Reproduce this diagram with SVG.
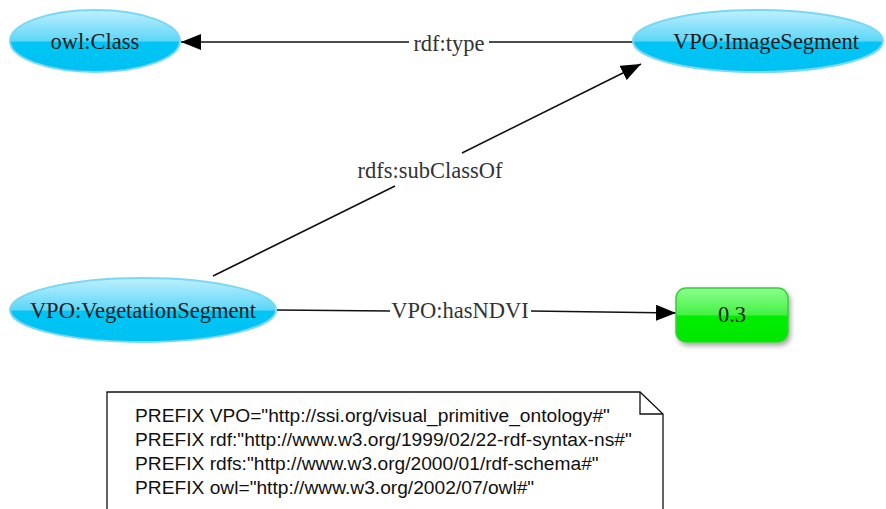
<svg xmlns="http://www.w3.org/2000/svg" width="886" height="509" viewBox="0 0 886 509">
<style>
.lbl{font-family:"Liberation Serif","Times New Roman",serif;font-size:22.5px;fill:#1a1a1a;text-anchor:middle;dominant-baseline:central}
.elbl{font-family:"Liberation Serif","Times New Roman",serif;font-size:22.5px;fill:#333;text-anchor:middle;dominant-baseline:central}
.note{font-family:"Liberation Sans",Arial,sans-serif;font-size:19.2px;fill:#111}
.edge{stroke:#111;stroke-width:1.6;fill:none}
.cls{fill:url(#blue);stroke:#7ad8f5;stroke-width:2}
</style>
<defs>
<linearGradient id="blue" x1="0" y1="0" x2="0" y2="1">
<stop offset="0" stop-color="#bff0fd"/>
<stop offset="0.5" stop-color="#5dd6f8"/>
<stop offset="0.52" stop-color="#00c5f5"/>
<stop offset="1" stop-color="#00c2f2"/>
</linearGradient>
<linearGradient id="green" x1="0" y1="0" x2="0" y2="1">
<stop offset="0" stop-color="#8cff8c"/>
<stop offset="0.5" stop-color="#44f044"/>
<stop offset="0.52" stop-color="#00ee00"/>
<stop offset="1" stop-color="#00e600"/>
</linearGradient>
<filter id="sh" x="-20%" y="-20%" width="150%" height="160%">
<feGaussianBlur in="SourceAlpha" stdDeviation="2.5"/>
<feOffset dx="2" dy="3" result="b"/>
<feComponentTransfer><feFuncA type="linear" slope="0.35"/></feComponentTransfer>
<feMerge><feMergeNode/><feMergeNode in="SourceGraphic"/></feMerge>
</filter>
<marker id="arrB" viewBox="0 0 20 16" refX="20" refY="8" markerWidth="20" markerHeight="16" markerUnits="userSpaceOnUse" orient="auto">
<path d="M0,0 L20,8 L0,16 z" fill="#000"/>
</marker>
</defs>
<g id="connectors">
<path class="edge" d="M633,42 L489,42"/>
<path class="edge" d="M409,42 L181,42" marker-end="url(#arrB)"/>
<text class="elbl" x="449" y="43">rdf:type</text>
<path class="edge" d="M213,276 L395,186"/>
<path class="edge" d="M462,153 L641,64" marker-end="url(#arrB)"/>
<text class="elbl" x="430" y="170">rdfs:subClassOf</text>
<path class="edge" d="M277,310 L390,311"/>
<path class="edge" d="M531,311 L676,313" marker-end="url(#arrB)"/>
<text class="elbl" x="460" y="310">VPO:hasNDVI</text>
</g>
<g id="owlClass">
<ellipse class="cls" cx="95" cy="41" rx="85" ry="31"/>
<text class="lbl" x="95" y="41">owl:Class</text>
</g>
<g id="imageSegment">
<ellipse class="cls" cx="758" cy="41" rx="125" ry="31"/>
<text class="lbl" x="766" y="41">VPO:ImageSegment</text>
</g>
<g id="vegetationSegment">
<ellipse class="cls" cx="143" cy="310" rx="133" ry="32"/>
<text class="lbl" x="143" y="310">VPO:VegetationSegment</text>
</g>
<g id="ndviValue">
<rect x="676" y="288" width="112" height="54" rx="10" fill="url(#green)" stroke="#3ccc3c" stroke-width="1.5" filter="url(#sh)"/>
<text class="lbl" x="732" y="314">0.3</text>
</g>
<g id="prefixNote">
<path d="M107,392 L640,392 L663,414 L663,512 L107,512 Z" fill="#fff" stroke="#111" stroke-width="1.3"/>
<path d="M640,392 L640,414 L663,414" fill="none" stroke="#111" stroke-width="1.3"/>
<text class="note" x="135" y="422">PREFIX VPO="http://ssi.org/visual_primitive_ontology#"</text>
<text class="note" x="135" y="446">PREFIX rdf:"http://www.w3.org/1999/02/22-rdf-syntax-ns#"</text>
<text class="note" x="135" y="470">PREFIX rdfs:"http://www.w3.org/2000/01/rdf-schema#"</text>
<text class="note" x="135" y="494">PREFIX owl="http://www.w3.org/2002/07/owl#"</text>
</g>
</svg>
